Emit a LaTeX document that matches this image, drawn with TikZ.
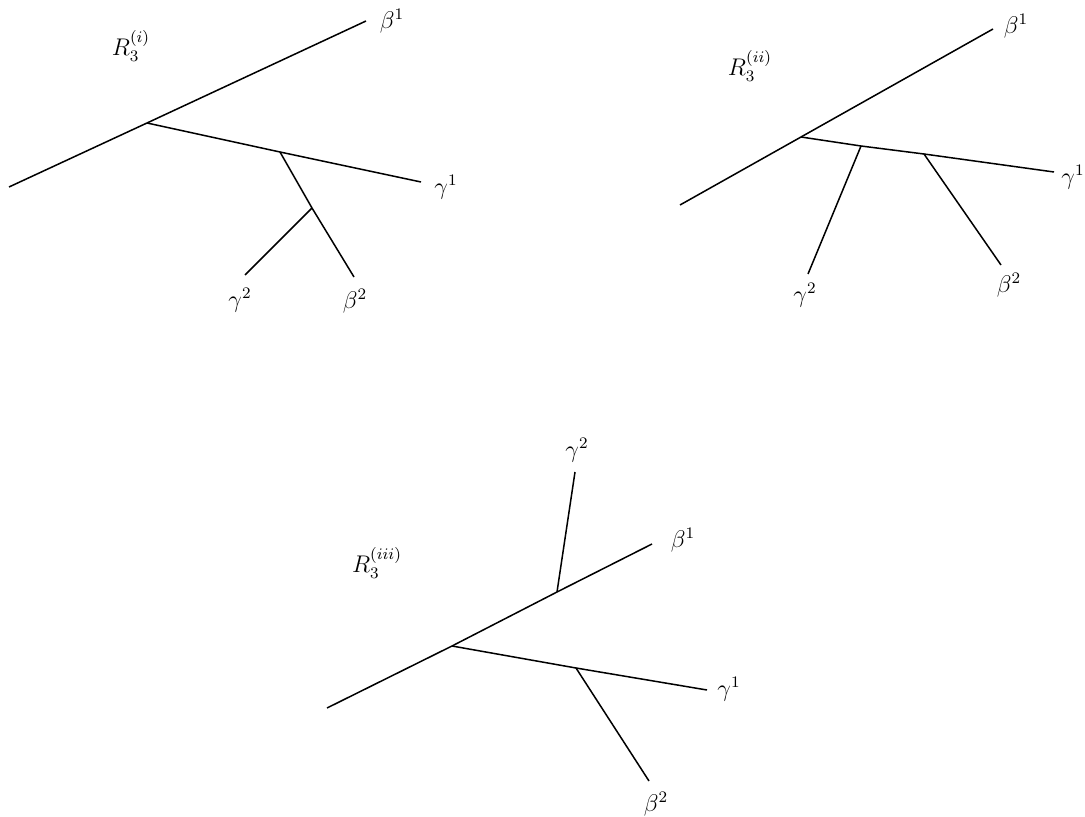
\documentclass[tikz,border=0pt]{standalone}
\usepackage{amsmath,amssymb}
\usetikzlibrary{positioning}
\tikzset{
  branch/.style={line width=0.75pt, draw=black},
  tip/.style={inner sep=1pt, font=\large},
  tag/.style={inner sep=1pt, font=\large}
}

\begin{document}
\begin{tikzpicture}[x=0.0175cm,y=-0.0175cm]
        \useasboundingbox (0,0) rectangle (1085,817);

        % tree (i)
        \coordinate (ia)  at (9,187);
        \coordinate (ij1) at (147,123);
        \coordinate (ib1) at (366,21);
        \coordinate (ij2) at (280,152);
        \coordinate (ig1) at (421,182);
        \coordinate (ij3) at (312,208);
        \coordinate (ib2) at (354,277);
        \coordinate (ig2) at (245,275);
        \draw[branch] (ia) -- (ij1) -- (ib1);
        \draw[branch] (ij1) -- (ij2) -- (ig1);
        \draw[branch] (ij2) -- (ij3) -- (ib2);
        \draw[branch] (ij3) -- (ig2);
        \node[tag] (ir)  at (131,46)  {$R_3^{(i)}$};
        \node[tip] (ilb1) at (392,21)  {$\beta^1$};
        \node[tip] (ilg1) at (446,187) {$\gamma^1$};
        \node[tip] (ilg2) at (240,300) {$\gamma^2$};
        \node[tip] (ilb2) at (355,301) {$\beta^2$};

        % tree (ii)
        \coordinate (iia)  at (680,205);
        \coordinate (iij1) at (801,137);
        \coordinate (iib1) at (993,29);
        \coordinate (iig1) at (1054,172);
        \coordinate (iij2) at (861,146);
        \coordinate (iij3) at (924,154);
        \coordinate (iig2) at (808,274);
        \coordinate (iib2) at (1001,265);
        \draw[branch] (iia) -- (iij1) -- (iib1);
        \draw[branch] (iij1) -- (iij2) -- (iij3) -- (iig1);
        \draw[branch] (iij2) -- (iig2);
        \draw[branch] (iij3) -- (iib2);
        \node[tag] (iir)  at (750,66)   {$R_3^{(ii)}$};
        \node[tip] (iilb1) at (1016,26)  {$\beta^1$};
        \node[tip] (iilg1) at (1073,177) {$\gamma^1$};
        \node[tip] (iilg2) at (805,295)  {$\gamma^2$};
        \node[tip] (iilb2) at (1009,285) {$\beta^2$};

        % tree (iii)
        \coordinate (iiia)  at (327,708);
        \coordinate (iiij1) at (452,646);
        \coordinate (iiij2) at (557,592);
        \coordinate (iiib1) at (652,544);
        \coordinate (iiig2) at (575,472);
        \coordinate (iiig1) at (707,690);
        \coordinate (iiij3) at (576,668);
        \coordinate (iiib2) at (649,781);
        \draw[branch] (iiia) -- (iiij1) -- (iiij2) -- (iiib1);
        \draw[branch] (iiij2) -- (iiig2);
        \draw[branch] (iiij1) -- (iiij3) -- (iiig1);
        \draw[branch] (iiij3) -- (iiib2);
        \node[tag] (iiir)  at (377,563)  {$R_3^{(iii)}$};
        \node[tip] (iiilb1) at (683,540) {$\beta^1$};
        \node[tip] (iiilg1) at (729,689) {$\gamma^1$};
        \node[tip] (iiilg2) at (577,450) {$\gamma^2$};
        \node[tip] (iiilb2) at (656,804) {$\beta^2$};
      \end{tikzpicture}
\end{document}
